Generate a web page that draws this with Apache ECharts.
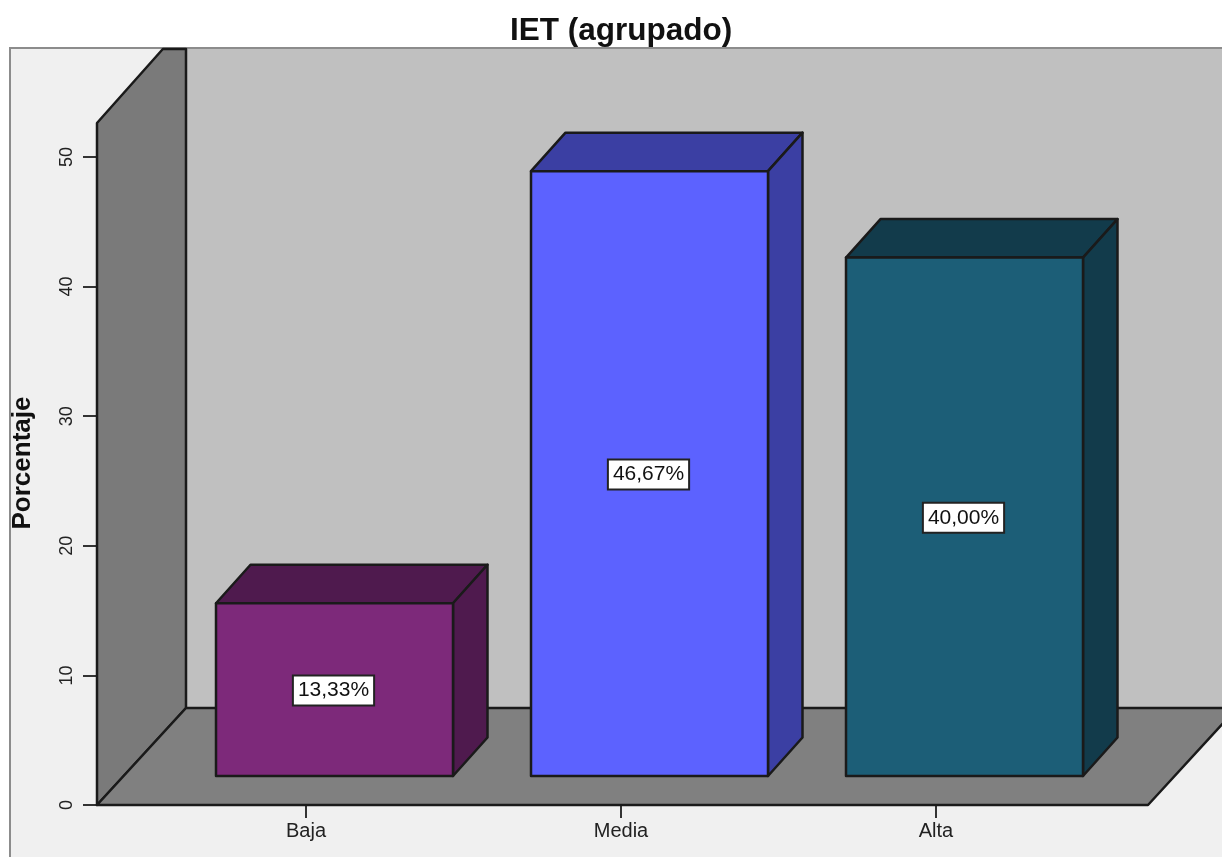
<!DOCTYPE html>
<html>
<head>
<meta charset="utf-8">
<style>
  html, body { margin: 0; padding: 0; background: #fff; }
  #main { width: 1222px; height: 857px; }
</style>
<script src="https://cdn.jsdelivr.net/npm/echarts@6/dist/echarts.min.js"></script>
</head>
<body>
<div id="main"></div>
<script>
var categories = ["Baja", "Media", "Alta"];
var porcentaje = [13.33, 46.67, 40.0];
var barLabels = ["13,33%", "46,67%", "40,00%"];
var frontColors = ["#7d297a", "#5c62ff", "#1c5e77"];
var sideColors = ["#4f1a4e", "#3b3fa3", "#123b4b"];

var font = '"Liberation Sans", Arial, sans-serif';
var lineColor = "#1a1a1a";

// depth of the fake 3d box, in px
var barDx = 34.5, barDy = 38.5;
var barShift = 28.5, barHalf = 118.5, barLift = 29;
// depth of the floor / walls
var wallDx = 89, wallDy = 97, axisGap = 51.5;
var frameTop = 49;

var myChart = echarts.init(document.getElementById("main"));

function poly(points, fill) {
  return {
    type: "polygon",
    shape: { points: points },
    style: { fill: fill, stroke: lineColor, lineWidth: 2.5, lineJoin: "round" },
  };
}

function renderWalls(params, api) {
  var cs = params.coordSys;
  var left = cs.x - axisGap;
  var right = cs.x + cs.width + 54.5;
  var y0 = api.coord([0, 0])[1];
  var y50 = api.coord([0, 50])[1];
  var wallFront = y50 - 34;
  return {
    type: "group",
    children: [
      {
        type: "rect",
        shape: { x: left + wallDx, y: frameTop, width: 1300, height: y0 - wallDy - frameTop },
        style: { fill: "#c0c0c0" },
      },
      poly([[left, y0], [left, wallFront], [left + (wallFront - frameTop) * 0.89, frameTop], [left + wallDx, frameTop], [left + wallDx, y0 - wallDy]], "#7a7a7a"),
      poly([[left, y0], [left + wallDx, y0 - wallDy], [right + wallDx, y0 - wallDy], [right, y0]], "#808080"),
    ],
  };
}

function renderBar(params, api) {
  var i = api.value(0);
  var top = api.coord([i, api.value(1)]);
  var base = api.coord([i, 0]);
  var x1 = top[0] + barShift - barHalf;
  var x2 = top[0] + barShift + barHalf;
  var yTop = top[1] - barLift;
  var yBot = base[1] - barLift;
  return {
    type: "group",
    children: [
      poly([[x1, yTop], [x1 + barDx, yTop - barDy], [x2 + barDx, yTop - barDy], [x2, yTop]], sideColors[i]),
      poly([[x2, yTop], [x2 + barDx, yTop - barDy], [x2 + barDx, yBot - barDy], [x2, yBot]], sideColors[i]),
      poly([[x1, yTop], [x2, yTop], [x2, yBot], [x1, yBot]], frontColors[i]),
      {
        type: "text",
        style: {
          text: barLabels[i],
          x: (x1 + x2) / 2 - 1,
          y: (yTop + yBot) / 2 + 1,
          align: "center",
          verticalAlign: "middle",
          font: "21px " + font,
          fill: "#111",
          backgroundColor: "#fff",
          borderColor: "#222",
          borderWidth: 2,
          padding: [4, 4, 3, 4],
        },
      },
    ],
  };
}

var option = {
  animation: false,
  backgroundColor: "#fff",
  title: {
    text: "IET (agrupado)",
    left: 621,
    top: 10,
    textAlign: "center",
    textStyle: { fontFamily: font, fontWeight: "bold", fontSize: 31.5, color: "#111" },
  },
  graphic: [
    {
      type: "rect",
      z: -1,
      shape: { x: 10, y: frameTop - 1, width: 1300, height: 900 },
      style: { fill: "#f0f0f0", stroke: "#8c8c8c", lineWidth: 2 },
    },
  ],
  grid: { left: 148.5, right: 128.5, top: 157, bottom: 52, outerBoundsMode: "none" },
  xAxis: {
    type: "category",
    data: categories,
    axisLine: { show: false },
    axisTick: { show: true, alignWithLabel: true, length: 13, lineStyle: { color: "#333", width: 2 } },
    axisLabel: { fontFamily: font, fontSize: 20, color: "#222", margin: 16 },
  },
  yAxis: {
    type: "value",
    min: 0,
    max: 50,
    interval: 10,
    offset: axisGap,
    name: "Porcentaje",
    nameLocation: "middle",
    nameRotate: 90,
    nameGap: 61,
    nameTextStyle: { fontFamily: font, fontWeight: "bold", fontSize: 26, color: "#111", padding: [0, 0, 0, 36] },
    splitLine: { show: false },
    axisLine: { show: false },
    axisTick: { show: true, length: 14, lineStyle: { color: "#333", width: 2 } },
    axisLabel: { rotate: 90, fontFamily: font, fontSize: 18, color: "#222", margin: 21 },
  },
  series: [
    {
      type: "custom",
      silent: true,
      z: 1,
      renderItem: renderWalls,
      data: [[0, 0]],
    },
    {
      type: "custom",
      silent: true,
      z: 2,
      renderItem: renderBar,
      encode: { x: 0, y: 1 },
      data: porcentaje.map(function (v, i) { return [i, v]; }),
    },
  ],
};

myChart.setOption(option);
// title box is offset a little from the text centre, nudge it over
myChart.setOption({ title: { left: 616 } });
</script>
</body>
</html>
